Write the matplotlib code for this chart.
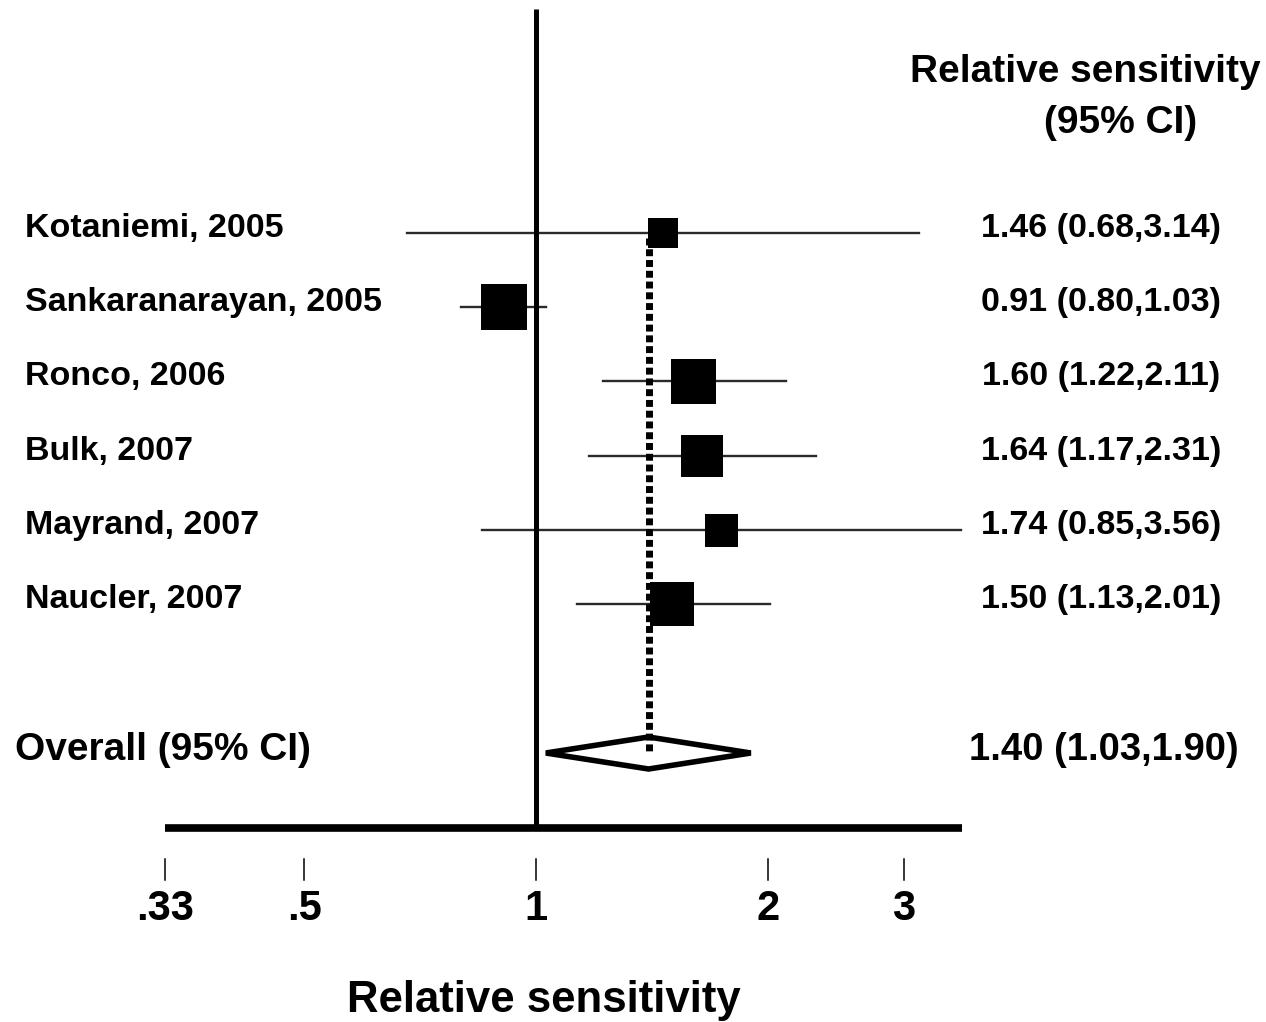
import matplotlib
matplotlib.use('Agg')
import matplotlib.pyplot as plt
from matplotlib.patches import Polygon
from matplotlib.transforms import blended_transform_factory

# ========================================================================================
# Data
# ========================================================================================

studies = ["Kotaniemi, 2005", "Sankaranarayan, 2005", "Ronco, 2006",
           "Bulk, 2007", "Mayrand, 2007", "Naucler, 2007"]
rr = [1.46, 0.91, 1.60, 1.64, 1.74, 1.50]
ci_low = [0.68, 0.80, 1.22, 1.17, 0.85, 1.13]
ci_high = [3.14, 1.03, 2.11, 2.31, 3.56, 2.01]
box_size = [30, 46, 45, 43, 33, 44]        # side of weight box (px)

overall_rr = 1.40
overall_low = 1.03
overall_high = 1.90

tick_values = [0.33, 0.5, 1, 2, 3]
tick_labels = ['.33', '.5', '1', '2', '3']

# ========================================================================================
# Layout (pixel based, figure is 1266 x 1022)
# ========================================================================================

W, H = 1266, 1022
fig = plt.figure(figsize=(W / 100, H / 100), dpi=100)
ax = fig.add_axes([165 / W, 0, 797 / W, 1])
ax.set_xscale('log')
xmin, xmax = 0.33, 3.572
ax.set_xlim(xmin, xmax)
ax.set_ylim(H, 0)
ax.axis('off')

# x in figure pixels, y in data (pixel rows)
tr = blended_transform_factory(fig.transFigure, ax.transData)

bold = dict(family=['Liberation Sans', 'DejaVu Sans'], fontweight='bold', color='black')

row_top, row_step = 233, 74.2
overall_y = 753
axis_y = 828

# ========================================================================================
# Studies
# ========================================================================================

for i, name in enumerate(studies):
    y = row_top + i * row_step
    ax.plot([ci_low[i], ci_high[i]], [y, y], color='#2a2a2a', lw=1.7, zorder=2,
            clip_on=False)
    ax.scatter([rr[i]], [y], marker='s', s=(box_size[i] * 0.72) ** 2, color='black',
               linewidths=0, zorder=4, clip_on=False)
    ax.text(25 / W, y + 4, name, transform=tr, ha='left', va='baseline',
            fontsize=24.5, **bold)
    ax.text(1101 / W, y + 4, f"{rr[i]:.2f} ({ci_low[i]:.2f},{ci_high[i]:.2f})",
            transform=tr, ha='center', va='baseline', fontsize=24.5, **bold)

# ========================================================================================
# Overall diamond + reference lines
# ========================================================================================

diamond = Polygon([[overall_low, overall_y], [overall_rr, overall_y - 16],
                   [overall_high, overall_y], [overall_rr, overall_y + 16]],
                  closed=True, facecolor='white', edgecolor='black', lw=4, zorder=3,
                  clip_on=False)
ax.add_patch(diamond)

ax.plot([overall_rr, overall_rr], [row_top + 5, overall_y], color='black', lw=5,
        linestyle=(0, (1.0, 0.55)), zorder=5, clip_on=False)

ax.text(15 / W, 760, "Overall (95% CI)", transform=tr, ha='left', va='baseline',
        fontsize=28, **bold)
ax.text(1104 / W, 760, f"{overall_rr:.2f} ({overall_low:.2f},{overall_high:.2f})",
        transform=tr, ha='center', va='baseline', fontsize=27.5, **bold)

# line of no effect
ax.plot([1, 1], [9, axis_y], color='black', lw=3.6, zorder=3, solid_capstyle='butt',
        clip_on=False)

# ========================================================================================
# X axis
# ========================================================================================

ax.plot([xmin, xmax], [axis_y, axis_y], color='black', lw=5.5, solid_capstyle='butt',
        zorder=3, clip_on=False)
for v, lab in zip(tick_values, tick_labels):
    ax.plot([v, v], [859, 880], color='black', lw=1.1, clip_on=False)
    ax.text(v, 920, lab, ha='center', va='baseline', fontsize=30, **bold)

ax.text(544 / W, 1012, "Relative sensitivity", transform=tr, ha='center',
        va='baseline', fontsize=31.5, **bold)

# header
ax.text(1085 / W, 82, "Relative sensitivity", transform=tr, ha='center',
        va='baseline', fontsize=28, **bold)
ax.text(1121 / W, 133, "(95% CI)", transform=tr, ha='center', va='baseline',
        fontsize=28, **bold)

plt.savefig('out.png', dpi=100)
plt.close()
